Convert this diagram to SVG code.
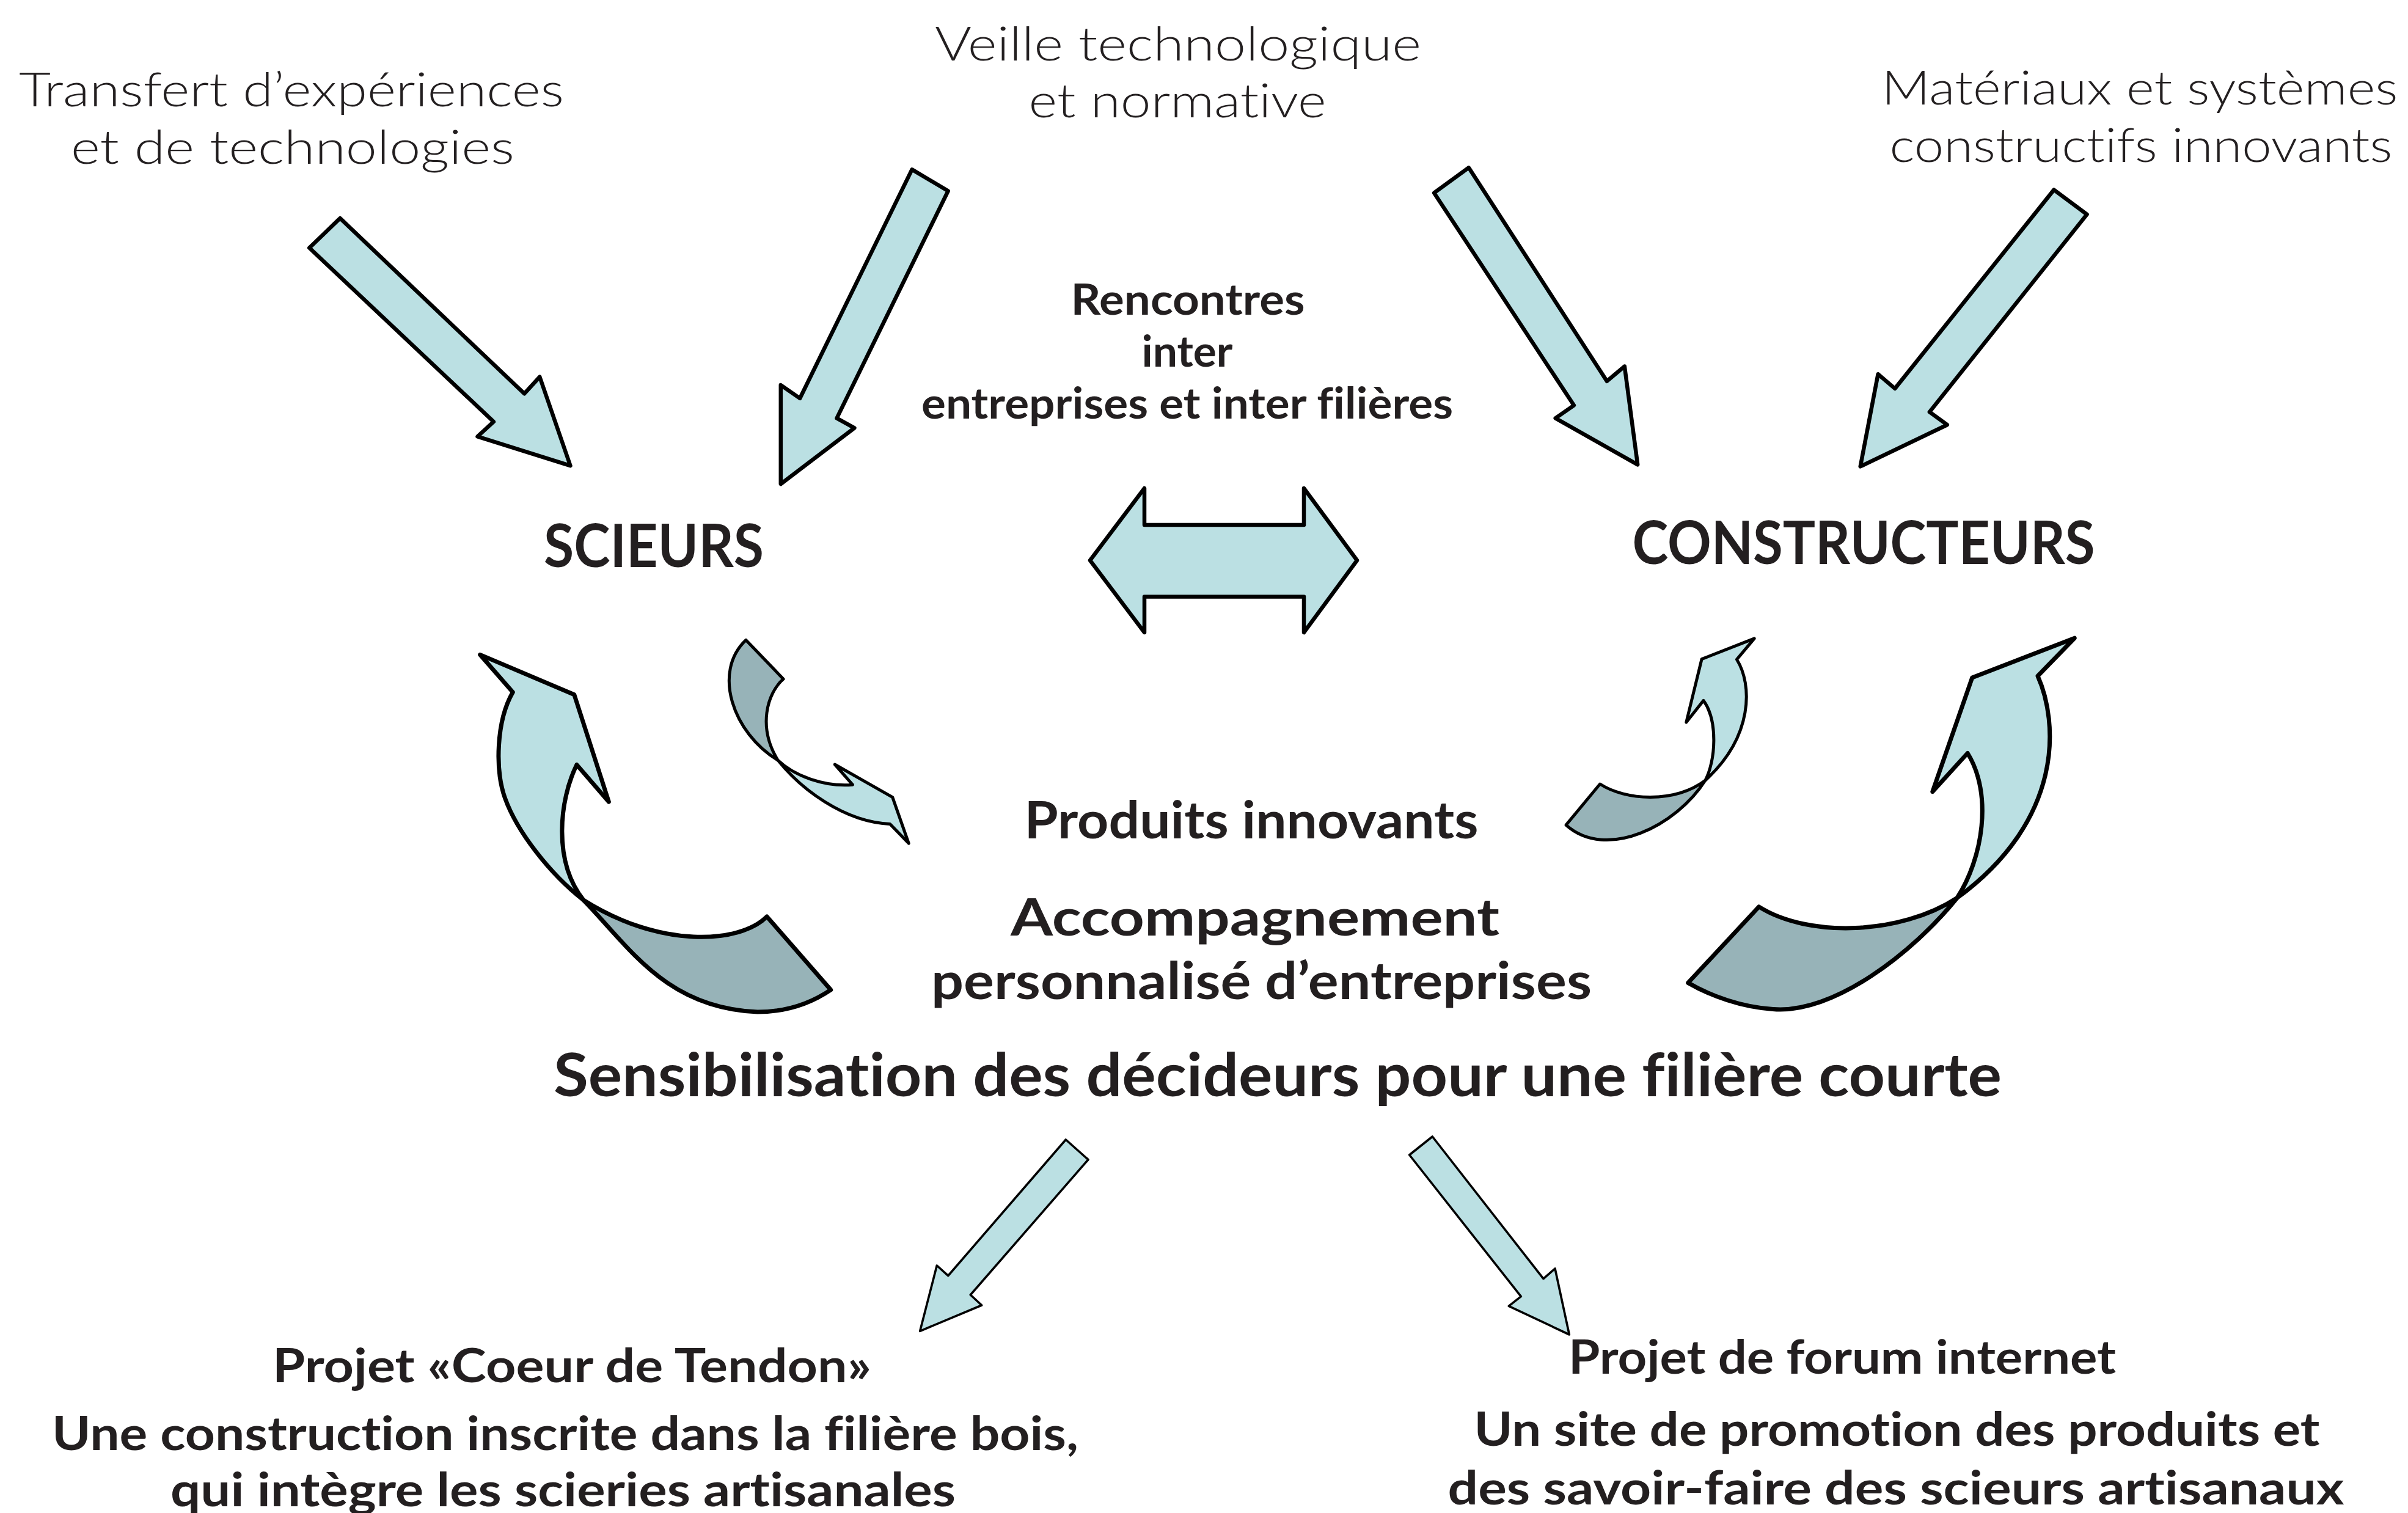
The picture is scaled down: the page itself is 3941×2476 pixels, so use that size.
<svg xmlns="http://www.w3.org/2000/svg" width="3941" height="2476" viewBox="0 0 3941 2476">
<style>
.a{fill:#BBE0E3;stroke:#000;stroke-width:6.5;stroke-linejoin:round}
.d{fill:#97B3B8;stroke:#000;stroke-width:6.5;stroke-linejoin:round}
.w5{stroke-width:7}
.w4{stroke-width:5}
.w3{stroke-width:3.6}
.t{font-family:Lato,'DejaVu Sans',sans-serif;fill:#231F20;text-anchor:middle;font-variant-ligatures:none;font-feature-settings:"liga" 0,"clig" 0,"dlig" 0}
.r{font-weight:300;font-size:76px}
.b{font-weight:700}
</style>
<rect width="3941" height="2476" fill="#fff"/>
<g id="connectors">
<polygon class="a" points="556.6,357.2 858.1,644.2 883.3,616.7 933.5,762.2 781.5,714.3 807.9,690.1 506.3,405.6"/>
<polygon class="a" points="1492.6,277.4 1551.7,312.5 1369.5,684.4 1398.4,700.3 1277.8,792.1 1277.8,630.1 1309.2,651.8"/>
<polygon class="a" points="2403.7,274.3 2347.1,315.7 2575.9,663.3 2545.7,684.4 2680.2,760.3 2658.8,599.5 2629.9,623.8"/>
<polygon class="a" points="3361.5,310.6 3415.6,350.8 3157.9,674.2 3186.8,695.2 3044.7,763.4 3073.6,612.3 3101.3,635.9"/>
<polygon class="a" points="1784,917 1873,799 1873,859 2134,859 2134,799 2221,917 2134,1035 2134,976.5 1873,976.5 1873,1035"/>
<g id="curve-left-big">
<path class="d w5" d="M955,1473 C1030,1550 1090,1650 1240,1656 C1290,1656 1330,1640 1359.7,1619.9 L1255.1,1500 C1210,1545 1080,1552 955,1473 Z"/>
<path class="a w5" d="M785.7,1071.4 L939.8,1136.7 L996.4,1312.2 L943.9,1251.5 C915,1310 905,1410 955,1473 C900,1430 846.3,1361.3 826.5,1306.1 C810,1260 812,1180 839.3,1132.7 Z"/>
</g>
<g id="curve-left-small">
<path class="d w4" d="M1220.9,1047.4 L1282.1,1111.2 C1255,1135 1240,1190 1273,1244 C1200,1200 1165,1100 1220.9,1047.4 Z"/>
<path class="a w4" d="M1273,1244 C1310,1290 1380,1345 1456.6,1348.5 L1487.2,1380.1 L1460.7,1304.6 L1366.3,1251 L1395.4,1284.2 C1350,1288 1300,1270 1273,1244 Z"/>
</g>
<g id="curve-right-small">
<path class="d w4" d="M2790.8,1277.2 C2745,1350 2630,1410 2563,1350.1 L2618.6,1283 C2660,1310 2740,1315 2790.8,1277.2 Z"/>
<path class="a w4" d="M2790.8,1277.2 C2808,1245 2812,1180 2788,1146.4 L2759.8,1182 L2785.1,1078.6 L2871.2,1044.8 L2842.5,1079.2 C2868,1120 2870,1205 2790.8,1277.2 Z"/>
</g>
<g id="curve-right-big">
<path class="d w5" d="M3203,1469.5 C3130,1560 3000,1660 2901.6,1651.5 C2850,1648 2800,1630 2762.7,1608.4 L2878.7,1483.9 C2960,1535 3110,1530 3203,1469.5 Z"/>
<path class="a w5" d="M3203,1469.5 C3245,1405 3262,1300 3220.2,1232.5 L3162.8,1295.6 L3227.7,1109.1 L3395.3,1044.2 L3335,1106.2 C3368,1180 3380,1340 3203,1469.5 Z"/>
</g>
<polygon class="a w3" points="1744.3,1865 1781,1897.7 1588.3,2119 1606.7,2136 1505.7,2178.3 1533.3,2071 1551.7,2087.7"/>
<polygon class="a w3" points="2344.3,1860 2526,2092.7 2545,2076 2568.3,2184 2469.3,2137.3 2489.3,2121.7 2306.7,1890"/>
</g>
<g id="transfert">
<text class="t r" x="477" y="174" textLength="892" lengthAdjust="spacingAndGlyphs">Transfert d’expériences</text>
<text class="t r" x="479" y="268" textLength="726" lengthAdjust="spacingAndGlyphs">et de technologies</text>
</g>
<g id="veille">
<text class="t r" x="1928" y="99" textLength="796" lengthAdjust="spacingAndGlyphs">Veille technologique</text>
<text class="t r" x="1927" y="192" textLength="487" lengthAdjust="spacingAndGlyphs">et normative</text>
</g>
<g id="materiaux">
<text class="t r" x="3502" y="171" textLength="845" lengthAdjust="spacingAndGlyphs">Matériaux et systèmes</text>
<text class="t r" x="3504" y="265" textLength="823" lengthAdjust="spacingAndGlyphs">constructifs innovants</text>
</g>
<g id="rencontres">
<text class="t b" font-size="70" x="1944" y="515" textLength="383" lengthAdjust="spacingAndGlyphs">Rencontres</text>
<text class="t b" font-size="70" x="1943" y="600" textLength="149" lengthAdjust="spacingAndGlyphs">inter</text>
<text class="t b" font-size="70" x="1943" y="685" textLength="870" lengthAdjust="spacingAndGlyphs">entreprises et inter filières</text>
</g>
<g id="scieurs">
<text class="t b" font-size="97" x="1070" y="928" textLength="360" lengthAdjust="spacingAndGlyphs">SCIEURS</text>
</g>
<g id="constructeurs">
<text class="t b" font-size="97" x="3050" y="923" textLength="757" lengthAdjust="spacingAndGlyphs">CONSTRUCTEURS</text>
</g>
<g id="produits">
<text class="t b" font-size="85" x="2048" y="1372" textLength="743" lengthAdjust="spacingAndGlyphs">Produits innovants</text>
</g>
<g id="accompagnement">
<text class="t b" font-size="85" x="2054" y="1531" textLength="800" lengthAdjust="spacingAndGlyphs">Accompagnement</text>
<text class="t b" font-size="85" x="2064.5" y="1635" textLength="1081" lengthAdjust="spacingAndGlyphs">personnalisé d’entreprises</text>
</g>
<g id="sensibilisation">
<text class="t b" font-size="97" x="2091" y="1793.5" textLength="2370" lengthAdjust="spacingAndGlyphs">Sensibilisation des décideurs pour une filière courte</text>
</g>
<g id="projet-coeur">
<text class="t b" font-size="77" x="936" y="2262" textLength="980" lengthAdjust="spacingAndGlyphs">Projet «Coeur de Tendon»</text>
<text class="t b" font-size="77" x="925" y="2373" textLength="1680" lengthAdjust="spacingAndGlyphs">Une construction inscrite dans la filière bois,</text>
<text class="t b" font-size="77" x="921.5" y="2465" textLength="1285" lengthAdjust="spacingAndGlyphs">qui intègre les scieries artisanales</text>
</g>
<g id="projet-forum">
<text class="t b" font-size="77" x="3015" y="2248" textLength="896" lengthAdjust="spacingAndGlyphs">Projet de forum internet</text>
<text class="t b" font-size="77" x="3104.5" y="2366" textLength="1384" lengthAdjust="spacingAndGlyphs">Un site de promotion des produits et</text>
<text class="t b" font-size="77" x="3103" y="2462" textLength="1467" lengthAdjust="spacingAndGlyphs">des savoir-faire des scieurs artisanaux</text>
</g>
</svg>
